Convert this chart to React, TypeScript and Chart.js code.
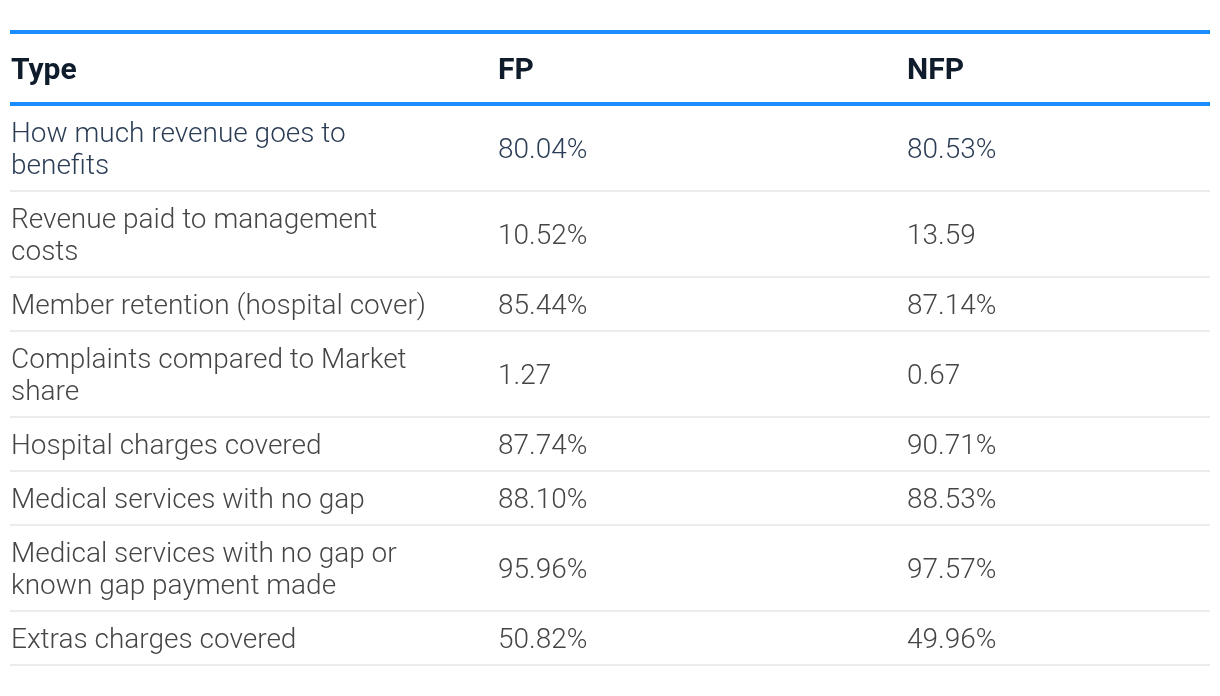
import React, { useEffect, useRef } from "react";
import { Chart, registerables } from "chart.js";

Chart.register(...registerables);

// ---- data ----
const headers = ["Type", "FP", "NFP"];
const rowLabels = [
  ["How much revenue goes to", "benefits"],
  ["Revenue paid to management", "costs"],
  ["Member retention (hospital cover)"],
  ["Complaints compared to Market", "share"],
  ["Hospital charges covered"],
  ["Medical services with no gap"],
  ["Medical services with no gap or", "known gap payment made"],
  ["Extras charges covered"],
];
const fpValues = ["80.04%", "10.52%", "85.44%", "1.27", "87.74%", "88.10%", "95.96%", "50.82%"];
const nfpValues = ["80.53%", "13.59", "87.14%", "0.67", "90.71%", "88.53%", "97.57%", "49.96%"];

// ---- layout / style ----
const W = 1204;
const H = 688;
const OFF = 8; // body margin
const TABLE_LEFT = 10;
const TABLE_RIGHT = 1210;
const COL_X = [11, 498, 907];
const BLUE = "#1a8cfb";
const HEADER_COLOR = "#0f1c2c";
const HIGHLIGHT_COLOR = "#2b3c55";
const BODY_COLOR = "#454545";
const SEP_COLOR = "#ececec";
const FONT = "Roboto, 'Noto Sans', sans-serif";
const LIGHT_FONT = "'Roboto Light', Roboto, 'Noto Sans', sans-serif";

const tablePlugin = {
  id: "tablePlugin",
  afterDraw(chart: any) {
    const ctx = chart.ctx as CanvasRenderingContext2D;
    const xs = chart.scales.x;
    const ys = chart.scales.y;
    const X = (v: number) => xs.getPixelForValue(v);
    const Y = (v: number) => ys.getPixelForValue(v);
    const left = X(TABLE_LEFT);
    const right = X(TABLE_RIGHT);

    ctx.save();
    // top blue rule
    let y = 30;
    ctx.fillStyle = BLUE;
    ctx.fillRect(left, Y(y), right - left, Y(y + 4) - Y(y));
    y += 4;
    // header
    const headerH = 68;
    ctx.font = `700 30px ${FONT}`;
    ctx.fillStyle = HEADER_COLOR;
    ctx.textBaseline = "alphabetic";
    ctx.textAlign = "left";
    headers.forEach((h, i) => {
      ctx.fillText(h, X(COL_X[i]), Y(y + 45));
    });
    y += headerH;
    ctx.fillStyle = BLUE;
    ctx.fillRect(left, Y(y), right - left, Y(y + 4) - Y(y));
    y += 4;

    // body rows
    const pad = 10;
    const lh = 32;
    const base = 26;
    ctx.font = `300 28px ${LIGHT_FONT}`;
    rowLabels.forEach((lines, r) => {
      const h = pad * 2 + lh * lines.length;
      const color = r === 0 ? HIGHLIGHT_COLOR : BODY_COLOR;
      ctx.fillStyle = color;
      lines.forEach((ln, k) => {
        ctx.fillText(ln, X(COL_X[0]), Y(y + pad + lh * k + base));
      });
      const vy = y + (h - lh) / 2 + base;
      ctx.fillText(fpValues[r], X(COL_X[1]), Y(vy));
      ctx.fillText(nfpValues[r], X(COL_X[2]), Y(vy));
      y += h;
      ctx.fillStyle = SEP_COLOR;
      ctx.fillRect(left, Y(y), right - left, Y(y + 2) - Y(y));
      y += 2;
    });
    ctx.restore();
  },
};

export default function App() {
  const ref = useRef<HTMLCanvasElement | null>(null);
  useEffect(() => {
    if (!ref.current) return;
    const chart = new Chart(ref.current, {
      type: "scatter",
      data: { datasets: [] },
      options: {
        responsive: false,
        animation: false,
        layout: { padding: 0 },
        plugins: { legend: { display: false }, tooltip: { enabled: false } },
        scales: {
          x: { type: "linear", min: OFF, max: OFF + W, display: false },
          y: { type: "linear", min: OFF, max: OFF + H, reverse: true, display: false },
        },
      },
      plugins: [tablePlugin],
    });
    return () => chart.destroy();
  }, []);
  return (
    <div style={{ width: W, height: H }}>
      <canvas ref={ref} width={W} height={H} style={{ display: "block", width: W, height: H }} />
    </div>
  );
}
